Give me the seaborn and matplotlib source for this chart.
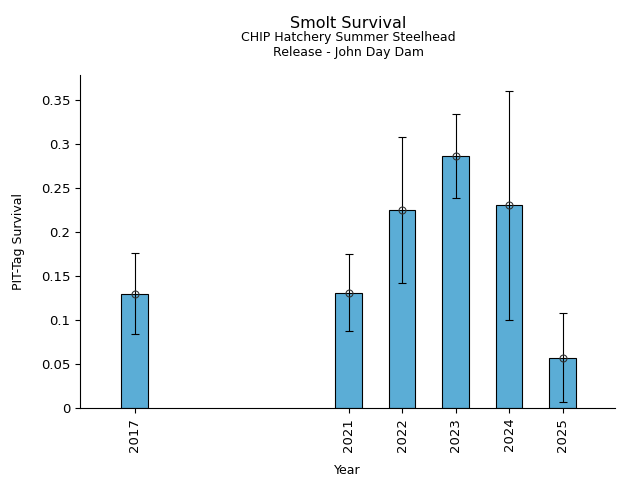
import pandas as pd
import seaborn as sns
from matplotlib import pyplot as plt
from matplotlib.ticker import FuncFormatter

years = [2017, 2021, 2022, 2023, 2024, 2025]
survival = [0.129, 0.130, 0.225, 0.286, 0.230, 0.0565]
ci_low = [0.084, 0.087, 0.142, 0.238, 0.100, 0.0065]
ci_high = [0.176, 0.175, 0.308, 0.334, 0.360, 0.108]

df = pd.DataFrame({'Year': years, 'Survival': survival})

sns.set_style('ticks', {'text.color': 'black', 'axes.labelcolor': 'black',
                        'xtick.color': 'black', 'ytick.color': 'black',
                        'axes.edgecolor': 'black'})
fig = plt.figure(figsize=(6.4, 4.8), dpi=100)
ax = fig.add_axes([0.125, 0.15, 0.836, 0.694])

sns.barplot(data=df, x='Year', y='Survival', native_scale=True, width=0.5,
            color='#5badd6', saturation=1, edgecolor='black', linewidth=0.8,
            errorbar=None, ax=ax)

yerr = [[s - lo for s, lo in zip(survival, ci_low)],
        [hi - s for s, hi in zip(survival, ci_high)]]
ax.errorbar(years, survival, yerr=yerr, fmt='none', ecolor='black',
            elinewidth=0.8, capsize=3, capthick=0.8)
ax.plot(years, survival, 'o', mfc='none', mec='#333333', ms=5, mew=0.8)

ax.set_xlim(2015.98, 2025.98)
ax.set_ylim(0, max(ci_high) * 1.05)
ax.set_xticks(years)
ax.set_xticklabels([str(y) for y in years], rotation=90)
ax.yaxis.set_major_formatter(FuncFormatter(lambda v, p: '{:g}'.format(round(v, 3))))
ax.tick_params(labelsize=9.5)
ax.set_xlabel('Year', fontsize=9, labelpad=9)
ax.set_ylabel('PIT-Tag Survival', fontsize=9, labelpad=11)
sns.despine(ax=ax)

fig.text(0.544, 0.952, 'Smolt Survival', ha='center', va='center', fontsize=11.5)
fig.text(0.544, 0.921, 'CHIP Hatchery Summer Steelhead', ha='center', va='center', fontsize=9)
fig.text(0.544, 0.891, 'Release - John Day Dam', ha='center', va='center', fontsize=9)

fig.savefig('out.png', dpi=100)
